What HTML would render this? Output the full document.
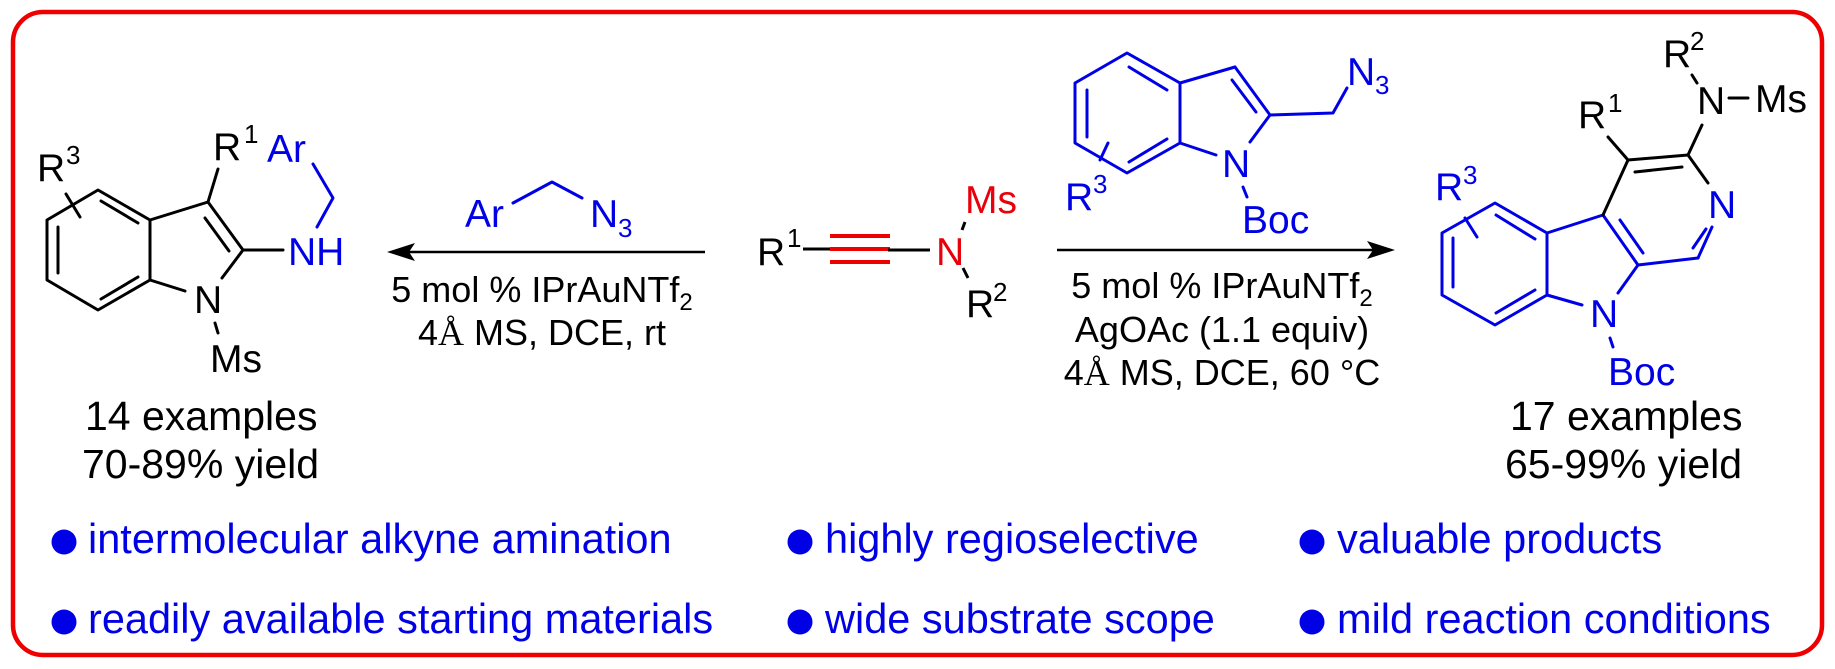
<!DOCTYPE html>
<html>
<head>
<meta charset="utf-8">
<style>
html,body{margin:0;padding:0;background:#fff;}
svg{display:block;}
text{font-family:"Liberation Sans",Arial,sans-serif;}
.l{font-size:39px;fill:#000;}
.b{font-size:39px;fill:#0000e6;}
.r{font-size:39px;fill:#e8000b;}
.sup{font-size:26px;}
.c{font-size:36px;fill:#000;}
.ex{font-size:41px;fill:#000;}
.bl{font-size:41.5px;fill:#0000e6;}
.serif{font-family:"Liberation Serif","Times New Roman",serif;}
</style>
</head>
<body>
<svg width="1835" height="669" viewBox="0 0 1835 669" xmlns="http://www.w3.org/2000/svg">
<rect x="0" y="0" width="1835" height="669" fill="#fff"/>
<!-- border -->
<rect x="13" y="12" width="1809" height="643" rx="30" ry="30" fill="none" stroke="#ee0000" stroke-width="4.5"/>

<!-- ===== Left product ===== -->
<g stroke="#000" stroke-width="3" fill="none" stroke-linecap="round" stroke-linejoin="round">
  <polygon points="98,190 150,220 150,280 98,310 47,280 47,220"/>
  <line x1="101" y1="201" x2="138" y2="223"/>
  <line x1="58" y1="227" x2="58" y2="273"/>
  <line x1="101" y1="299" x2="138" y2="277"/>
  <line x1="66" y1="194" x2="80" y2="217"/>
  <line x1="150" y1="220" x2="208" y2="202"/>
  <line x1="208" y1="202" x2="243" y2="250"/>
  <line x1="205" y1="218" x2="229" y2="251"/>
  <line x1="243" y1="250" x2="222" y2="278"/>
  <line x1="150" y1="280" x2="185" y2="291"/>
  <line x1="215" y1="323" x2="218" y2="333"/>
  <line x1="208" y1="202" x2="218" y2="169"/>
  <line x1="243" y1="250" x2="283" y2="250"/>
</g>
<g stroke="#0000e6" stroke-width="3" fill="none" stroke-linecap="round" stroke-linejoin="round">
  <polyline points="313,164 333,198 317,227"/>
</g>
<text class="l" x="37" y="181">R</text><text class="l sup" x="66" y="164">3</text>
<text class="l" x="213" y="160">R</text><text class="l sup" x="244" y="143">1</text>
<text class="b" x="267" y="162">Ar</text>
<text class="b" x="288" y="265">NH</text>
<text class="l" x="194" y="313">N</text>
<text class="l" x="210" y="372">Ms</text>
<text class="ex" x="85" y="430">14 examples</text>
<text class="ex" x="82" y="478">70-89% yield</text>

<!-- ===== Left reagent & arrow ===== -->
<g stroke="#0000e6" stroke-width="3" fill="none" stroke-linecap="round" stroke-linejoin="round">
  <polyline points="513,203 552,182 582,198"/>
</g>
<text class="b" x="465" y="227">Ar</text>
<text class="b" x="590" y="227">N</text><text class="b sup" x="618" y="237">3</text>
<line x1="400" y1="252" x2="705" y2="252" stroke="#000" stroke-width="2.6"/>
<polygon points="387,252 415,243 409,252 415,261" fill="#000"/>
<text class="c" x="542" y="302" text-anchor="middle">5 mol % IPrAuNTf<tspan font-size="24" dy="8">2</tspan></text>
<text class="c" x="542" y="345" text-anchor="middle">4<tspan class="serif">Å</tspan> MS, DCE, rt</text>

<!-- ===== Center ynamide ===== -->
<text class="l" x="757" y="265">R</text><text class="l sup" x="787" y="247">1</text>
<line x1="803" y1="249" x2="832" y2="249" stroke="#000" stroke-width="3"/>
<g stroke="#ee0000" stroke-width="4">
  <line x1="830" y1="236" x2="890" y2="236"/>
  <line x1="830" y1="249" x2="890" y2="249"/>
  <line x1="830" y1="262" x2="890" y2="262"/>
</g>
<line x1="888" y1="250" x2="930" y2="250" stroke="#000" stroke-width="3"/>
<text class="r" x="936" y="265">N</text>
<text class="r" x="965" y="213">Ms</text>
<line x1="962" y1="230" x2="965" y2="222" stroke="#000" stroke-width="3"/>
<line x1="963" y1="268" x2="968" y2="278" stroke="#000" stroke-width="3"/>
<text class="l" x="966" y="317">R</text><text class="l sup" x="993" y="301">2</text>

<!-- ===== Right arrow & conditions ===== -->
<line x1="1057" y1="250" x2="1382" y2="250" stroke="#000" stroke-width="2.6"/>
<polygon points="1395,250 1367,241 1373,250 1367,259" fill="#000"/>
<text class="c" x="1222" y="298" text-anchor="middle">5 mol % IPrAuNTf<tspan font-size="24" dy="8">2</tspan></text>
<text class="c" x="1222" y="342" text-anchor="middle">AgOAc (1.1 equiv)</text>
<text class="c" x="1222" y="385" text-anchor="middle">4<tspan class="serif">Å</tspan> MS, DCE, 60 °C</text>

<!-- ===== Right reagent (indole azide) ===== -->
<g stroke="#0000e6" stroke-width="3" fill="none" stroke-linecap="round" stroke-linejoin="round">
  <polygon points="1127,53 1180,83 1180,143 1127,173 1075,143 1075,83"/>
  <line x1="1129" y1="67" x2="1167" y2="90"/>
  <line x1="1087" y1="90" x2="1087" y2="137"/>
  <line x1="1129" y1="162" x2="1167" y2="139"/>
  <line x1="1108" y1="143" x2="1100" y2="160"/>
  <line x1="1180" y1="83" x2="1235" y2="67"/>
  <line x1="1235" y1="67" x2="1270" y2="115"/>
  <line x1="1232" y1="80" x2="1256" y2="112"/>
  <line x1="1270" y1="115" x2="1250" y2="142"/>
  <line x1="1180" y1="143" x2="1216" y2="155"/>
  <line x1="1243" y1="187" x2="1247" y2="197"/>
  <polyline points="1270,115 1333,113 1347,88"/>
</g>
<text class="b" x="1065" y="210">R</text><text class="b sup" x="1093" y="193">3</text>
<text class="b" x="1222" y="177">N</text>
<text class="b" x="1242" y="233">Boc</text>
<text class="b" x="1347" y="85">N</text><text class="b sup" x="1375" y="94">3</text>

<!-- ===== Right product ===== -->
<g stroke="#0000e6" stroke-width="3" fill="none" stroke-linecap="round" stroke-linejoin="round">
  <polygon points="1495,203 1547,233 1547,295 1495,325 1442,295 1442,233"/>
  <line x1="1496" y1="215" x2="1535" y2="239"/>
  <line x1="1453" y1="238" x2="1453" y2="287"/>
  <line x1="1496" y1="313" x2="1535" y2="290"/>
  <line x1="1465" y1="218" x2="1477" y2="237"/>
  <line x1="1547" y1="233" x2="1603" y2="215"/>
  <line x1="1603" y1="215" x2="1638" y2="265"/>
  <line x1="1620" y1="220" x2="1643" y2="253"/>
  <line x1="1638" y1="265" x2="1618" y2="293"/>
  <line x1="1547" y1="295" x2="1582" y2="305"/>
  <line x1="1610" y1="338" x2="1613" y2="347"/>
  <line x1="1638" y1="265" x2="1698" y2="258"/>
  <line x1="1698" y1="258" x2="1712" y2="227"/>
  <line x1="1693" y1="248" x2="1706" y2="229"/>
</g>
<g stroke="#000" stroke-width="3" fill="none" stroke-linecap="round" stroke-linejoin="round">
  <line x1="1603" y1="215" x2="1628" y2="160"/>
  <line x1="1628" y1="160" x2="1688" y2="155"/>
  <line x1="1635" y1="172" x2="1682" y2="167"/>
  <line x1="1688" y1="155" x2="1708" y2="183"/>
  <line x1="1628" y1="160" x2="1608" y2="137"/>
  <line x1="1688" y1="155" x2="1702" y2="125"/>
  <line x1="1692" y1="75" x2="1697" y2="83"/>
  <line x1="1729" y1="98" x2="1748" y2="98"/>
</g>
<text class="b" x="1435" y="200">R</text><text class="b sup" x="1463" y="184">3</text>
<text class="b" x="1590" y="327">N</text>
<text class="b" x="1608" y="385">Boc</text>
<text class="b" x="1708" y="218">N</text>
<text class="l" x="1578" y="128">R</text><text class="l sup" x="1608" y="112">1</text>
<text class="l" x="1697" y="114">N</text>
<text class="l" x="1755" y="112">Ms</text>
<text class="l" x="1663" y="67">R</text><text class="l sup" x="1690" y="50">2</text>
<text class="ex" x="1510" y="430">17 examples</text>
<text class="ex" x="1505" y="478">65-99% yield</text>

<!-- ===== Bullets ===== -->
<g fill="#0000e6">
  <circle cx="64" cy="542" r="12.5"/>
  <circle cx="800" cy="542" r="12.5"/>
  <circle cx="1312" cy="542" r="12.5"/>
  <circle cx="64" cy="622" r="12.5"/>
  <circle cx="800" cy="622" r="12.5"/>
  <circle cx="1312" cy="622" r="12.5"/>
</g>
<text class="bl" x="88" y="553">intermolecular alkyne amination</text>
<text class="bl" x="825" y="553">highly regioselective</text>
<text class="bl" x="1337" y="553">valuable products</text>
<text class="bl" x="88" y="633">readily available starting materials</text>
<text class="bl" x="825" y="633">wide substrate scope</text>
<text class="bl" x="1337" y="633">mild reaction conditions</text>
</svg>
</body>
</html>
